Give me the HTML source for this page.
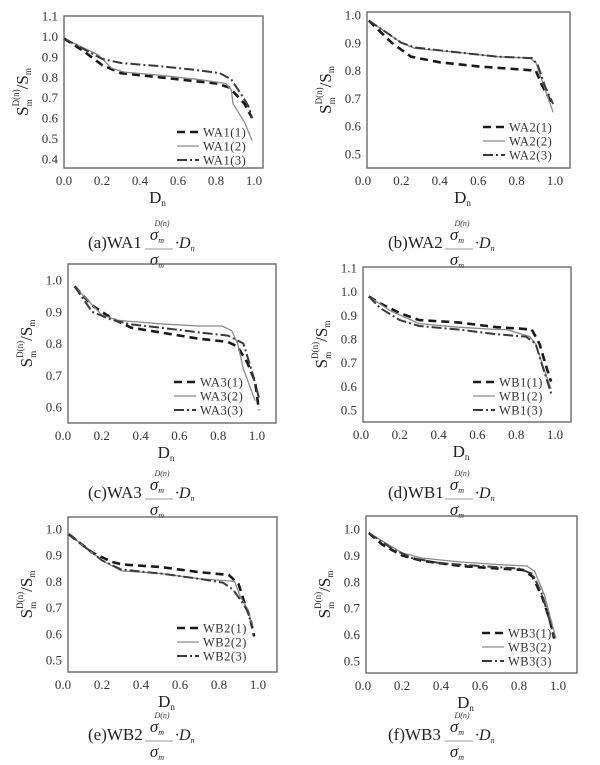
<!DOCTYPE html>
<html><head><meta charset="utf-8"><style>
html,body{margin:0;padding:0;background:#fff;}
svg{display:block;font-family:"Liberation Serif",serif;}
</style></head><body>
<svg id="fig" width="600" height="765" viewBox="0 0 600 765" xmlns="http://www.w3.org/2000/svg"></svg>
<script>
// ---- data ----
const xA1_1=[0,0.1,0.2,0.3,0.4,0.6,0.8,0.87,0.9,0.95,0.99];
const yA1_1=[0.99,0.93,0.86,0.82,0.81,0.79,0.77,0.75,0.72,0.67,0.60];
const xA1_2=[0,0.18,0.25,0.32,0.5,0.7,0.85,0.88,0.89,0.95,0.99];
const yA1_2=[0.99,0.91,0.845,0.825,0.81,0.79,0.77,0.74,0.67,0.58,0.49];
const xA1_3=[0,0.2,0.3,0.5,0.7,0.82,0.88,0.93,0.97,0.99];
const yA1_3=[0.99,0.89,0.87,0.855,0.835,0.82,0.79,0.72,0.66,0.60];

const xA2_1=[0.03,0.15,0.25,0.4,0.6,0.8,0.9,0.93,0.97,0.98];
const yA2_1=[0.98,0.90,0.85,0.83,0.815,0.805,0.80,0.75,0.70,0.67];
const xA2_2=[0.03,0.2,0.27,0.5,0.7,0.87,0.9,0.94,0.99];
const yA2_2=[0.98,0.90,0.88,0.865,0.85,0.845,0.83,0.75,0.65];
const xA2_3=[0.03,0.2,0.27,0.5,0.7,0.88,0.91,0.95,0.99];
const yA2_3=[0.98,0.90,0.883,0.865,0.85,0.845,0.82,0.74,0.68];

const xA3_1=[0.06,0.15,0.25,0.35,0.5,0.7,0.85,0.9,0.95,0.99,1.01];
const yA3_1=[0.98,0.92,0.88,0.85,0.835,0.815,0.805,0.79,0.74,0.68,0.59];
const xA3_2=[0.06,0.2,0.28,0.5,0.7,0.82,0.87,0.9,0.93,0.99];
const yA3_2=[0.98,0.89,0.873,0.862,0.855,0.855,0.84,0.80,0.72,0.62];
const xA3_3=[0.06,0.15,0.25,0.35,0.5,0.7,0.85,0.93,0.97,1.01];
const yA3_3=[0.98,0.90,0.875,0.86,0.85,0.835,0.825,0.80,0.72,0.63];

const xB1_1=[0.04,0.1,0.2,0.3,0.5,0.7,0.8,0.88,0.92,0.96,0.98];
const yB1_1=[0.98,0.95,0.91,0.88,0.87,0.85,0.845,0.84,0.78,0.67,0.62];
const xB1_2=[0.04,0.15,0.3,0.5,0.7,0.75,0.87,0.9,0.94,0.98];
const yB1_2=[0.98,0.92,0.865,0.85,0.84,0.84,0.81,0.78,0.68,0.59];
const xB1_3=[0.04,0.1,0.2,0.3,0.5,0.7,0.85,0.9,0.93,0.98];
const yB1_3=[0.98,0.93,0.88,0.855,0.84,0.82,0.81,0.78,0.70,0.57];

const xB2_1=[0.03,0.15,0.25,0.3,0.5,0.7,0.85,0.9,0.93,0.96,0.98];
const yB2_1=[0.98,0.91,0.875,0.865,0.855,0.835,0.825,0.79,0.72,0.66,0.59];
const xB2_2=[0.03,0.2,0.3,0.5,0.7,0.88,0.91,0.95,0.97];
const yB2_2=[0.98,0.88,0.84,0.83,0.81,0.80,0.74,0.69,0.63];
const xB2_3=[0.03,0.2,0.3,0.5,0.7,0.82,0.87,0.92,0.95,0.97];
const yB2_3=[0.98,0.88,0.845,0.83,0.81,0.795,0.77,0.72,0.68,0.62];

const xB3_1=[0.03,0.1,0.2,0.3,0.5,0.7,0.82,0.87,0.92,0.96,0.98];
const yB3_1=[0.985,0.94,0.90,0.88,0.86,0.85,0.845,0.82,0.74,0.65,0.585];
const xB3_2=[0.03,0.2,0.3,0.5,0.7,0.84,0.88,0.93,0.99];
const yB3_2=[0.985,0.91,0.89,0.875,0.865,0.86,0.84,0.75,0.585];
const xB3_3=[0.03,0.15,0.25,0.4,0.6,0.8,0.87,0.92,0.98];
const yB3_3=[0.985,0.925,0.89,0.87,0.86,0.85,0.83,0.75,0.59];

const xTicks=[0,0.2,0.4,0.6,0.8,1.0];
const xTickLabels=["0.0","0.2","0.4","0.6","0.8","1.0"];
const yTicksA=[0.4,0.5,0.6,0.7,0.8,0.9,1.0,1.1];
const yTicksB=[0.5,0.6,0.7,0.8,0.9,1.0];
const yTicksC=[0.6,0.7,0.8,0.9,1.0];
const yTicksD=[0.5,0.6,0.7,0.8,0.9,1.0,1.1];
const yTicksE=[0.5,0.6,0.7,0.8,0.9,1.0];
const yTicksF=[0.5,0.6,0.7,0.8,0.9,1.0];

const NS="http://www.w3.org/2000/svg";
const svg=document.getElementById('fig');
function mk(tag,attrs,parent){const e=document.createElementNS(NS,tag);for(const k in attrs)e.setAttribute(k,attrs[k]);(parent||svg).appendChild(e);return e;}
const styles=[
 {stroke:"#1a1a1a",w:2.6,dash:"8,5"},
 {stroke:"#8a8a8a",w:1.3,dash:""},
 {stroke:"#3a3a3a",w:2.0,dash:"10,3,2,3"}
];
const panels=[
 {id:"a",name:"WA1",L:64,R:263,T:16,B:168,x0:64,x1:254,yv0:0.4,yp0:159,yv1:1.1,yp1:16,yt:yTicksA,s:[[xA1_1,yA1_1],[xA1_2,yA1_2],[xA1_3,yA1_3]],lx:177,ly:132,cap:248},
 {id:"b",name:"WA2",L:367,R:570,T:12,B:168,x0:363,x1:555,yv0:0.5,yp0:154,yv1:1.0,yp1:15,yt:yTicksB,s:[[xA2_1,yA2_1],[xA2_2,yA2_2],[xA2_3,yA2_3]],lx:483,ly:127,cap:248},
 {id:"c",name:"WA3",L:68,R:276,T:264,B:423,x0:63,x1:257,yv0:0.6,yp0:407,yv1:1.0,yp1:280,yt:yTicksC,s:[[xA3_1,yA3_1],[xA3_2,yA3_2],[xA3_3,yA3_3]],lx:174,ly:382,cap:498},
 {id:"d",name:"WB1",L:363,R:571,T:267,B:422,x0:361,x1:555,yv0:0.5,yp0:410,yv1:1.1,yp1:268,yt:yTicksD,s:[[xB1_1,yB1_1],[xB1_2,yB1_2],[xB1_3,yB1_3]],lx:473,ly:382,cap:498},
 {id:"e",name:"WB2",L:68,R:277,T:517,B:672,x0:63,x1:258,yv0:0.5,yp0:660,yv1:1.0,yp1:529,yt:yTicksE,s:[[xB2_1,yB2_1],[xB2_2,yB2_2],[xB2_3,yB2_3]],lx:177,ly:628,cap:740},
 {id:"f",name:"WB3",L:366,R:577,T:516,B:673,x0:363,x1:558,yv0:0.5,yp0:661,yv1:1.0,yp1:529,yt:yTicksF,s:[[xB3_1,yB3_1],[xB3_2,yB3_2],[xB3_3,yB3_3]],lx:482,ly:633,cap:740}
];
panels.forEach(p=>{
 const g=mk('g',{});
 
 
 const X=v=>p.x0+(p.x1-p.x0)*v;
 const Y=v=>p.yp0+(p.yp1-p.yp0)*(v-p.yv0)/(p.yv1-p.yv0);
 const box=mk('rect',{x:p.L,y:p.T,width:p.R-p.L,height:p.B-p.T,fill:"none",stroke:"#6a6a6a","stroke-width":1.4},g);
 
 
 xTicks.forEach((t,i)=>{
  const tx=mk('text',{x:X(t),y:p.B+17,"font-size":13,"text-anchor":"middle",fill:"#333"},g);
  tx.textContent=xTickLabels[i];
  
  
 });
 p.yt.forEach(t=>{
  const ty=mk('text',{x:p.L-6,y:Y(t)+4.5,"font-size":13,"text-anchor":"end",fill:"#333"},g);
  ty.textContent=t.toFixed(1);
  
  
 });
 const cx=(p.L+p.R)/2;
 const xt=mk('text',{x:cx-6,y:p.B+35,"font-size":17,fill:"#222","text-anchor":"middle"},g);
 xt.innerHTML='D<tspan font-size="9" dy="3">n</tspan>';
 
 
 const cy=(p.T+p.B)/2;
 const ax=p.L-36;
 const yt=mk('text',{x:0,y:0,"font-size":17,fill:"#222","text-anchor":"middle",transform:`translate(${ax},${cy}) rotate(-90)`},g);
 yt.innerHTML='S<tspan font-size="9" dy="4">m</tspan><tspan font-size="9" dx="-7" dy="-13">D(n)</tspan><tspan dy="9">/S</tspan><tspan font-size="9" dy="3">m</tspan>';
 
 
 p.s.forEach((sr,k)=>{
  const st=styles[k];
  const d=sr[0].map((x,i)=>(i?'L':'M')+X(x).toFixed(1)+' '+Y(sr[1][i]).toFixed(1)).join(' ');
  const path=mk('path',{d:d,fill:"none",stroke:st.stroke,"stroke-width":st.w,"stroke-dasharray":st.dash,"stroke-linejoin":"round"},g);
  
  
  const ly=p.ly+k*14;
  const ll=mk('line',{x1:p.lx,y1:ly,x2:p.lx+22,y2:ly,stroke:st.stroke,"stroke-width":st.w,"stroke-dasharray":st.dash},g);
  
  
  const lt=mk('text',{x:p.lx+26,y:ly+4.5,"font-size":12.5,fill:"#333","letter-spacing":"0.5"},g);
  lt.textContent=p.name+'('+(k+1)+')';
  
  
 });
 const capX=(p.L<300?88:388);
 const cg=mk('g',{},g);
 
 
 const c1=mk('text',{x:capX,y:p.cap,"font-size":17,fill:"#222"},cg);
 c1.textContent='('+p.id+')'+p.name;
 const fx=capX+57;
 const num=mk('text',{x:fx+12,y:p.cap-8,"font-size":17,"font-style":"italic",fill:"#222","text-anchor":"middle"},cg);
 num.innerHTML='σ<tspan font-size="8" dy="3">m</tspan>';
 const sup=mk('text',{x:fx+17,y:p.cap-22,"font-size":8,"font-style":"italic",fill:"#333","text-anchor":"middle"},cg);
 sup.textContent='D(n)';
 mk('line',{x1:fx,y1:p.cap+1,x2:fx+28,y2:p.cap+1,stroke:"#999","stroke-width":1},cg);
 const den=mk('text',{x:fx+12,y:p.cap+17,"font-size":17,"font-style":"italic",fill:"#222","text-anchor":"middle"},cg);
 den.innerHTML='σ<tspan font-size="8" dy="3">m</tspan>';
 const dn=mk('text',{x:fx+30,y:p.cap,"font-size":16,"font-style":"italic",fill:"#222"},cg);
 dn.innerHTML='·D<tspan font-size="8" dy="3">n</tspan>';
});
</script>
</body></html>
